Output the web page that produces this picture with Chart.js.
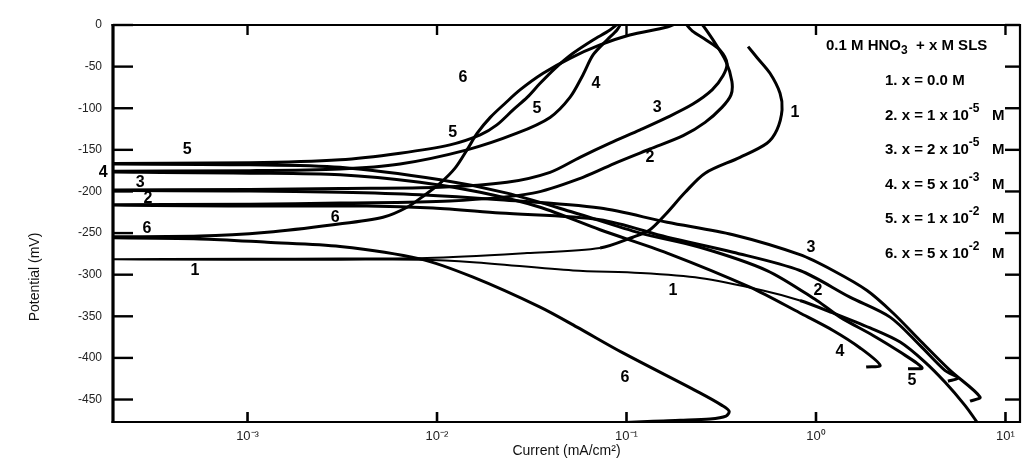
<!DOCTYPE html>
<html>
<head>
<meta charset="utf-8">
<script src="https://cdn.jsdelivr.net/npm/chart.js@4.4.1/dist/chart.umd.min.js"></script>
<style>
  html, body { margin: 0; padding: 0; background: #fff; }
  #wrap { position: relative; width: 1031px; height: 474px; }
</style>
</head>
<body>
<div id="wrap"><canvas id="myChart"></canvas></div>
<script>
// tick values / labels
const xTicks = [1e-3, 1e-2, 1e-1, 1, 10];
const xTickLabels = ['10⁻³', '10⁻²', '10⁻¹', '10⁰', '10¹'];
const yTicks = [0, -50, -100, -150, -200, -250, -300, -350, -400, -450];

// each curve: cathodic end -> Ecorr -> anodic end  (current mA/cm2, potential mV)
const curve1Current = [8.29, 7.07, 6.11, 4.79, 3.76, 2.78, 1.93, 1.23, 0.823, 0.525, 0.244, 0.118, 0.0522, 0.0155, 0.00813, 0.00308, 0.00103, 0.0001, 0.00103, 0.00308, 0.00886, 0.0299, 0.0725, 0.108, 0.133, 0.160, 0.204, 0.260, 0.397, 0.551, 0.622, 0.662, 0.646, 0.572, 0.488, 0.438];
const curve1Potential = [-499, -477, -457, -429, -405, -381, -364, -346, -331, -319, -304, -298, -295, -285, -282, -282, -282, -281.5, -281, -280.5, -280, -274, -268, -255, -246, -228, -201, -178, -159, -142, -126, -102, -82, -58, -39, -26];

const curve2Current = [4.97, 5.61, 4.79, 3.54, 2.46, 1.51, 0.823, 0.365, 0.164, 0.0725, 0.0215, 0.00953, 0.00427, 0.00103, 0.0001, 0.00103, 0.00308, 0.0117, 0.0321, 0.0589, 0.0891, 0.133, 0.199, 0.260, 0.319, 0.356, 0.360, 0.335, 0.290, 0.256, 0.244];
const curve2Potential = [-428, -424, -415, -385, -351, -327, -295, -273, -255, -234, -226, -220, -217.5, -217.5, -216, -215.5, -214, -211.5, -202, -183, -165, -149, -133, -117, -99, -84, -68, -44, -20, -2, 4];

const curve3Current = [6.50, 7.34, 5.10, 3.54, 2.55, 1.86, 1.23, 0.823, 0.365, 0.164, 0.0725, 0.0215, 0.00813, 0.00308, 0.00103, 0.0001, 0.00103, 0.00308, 0.0104, 0.0234, 0.0395, 0.0568, 0.0818, 0.118, 0.164, 0.224, 0.283, 0.323, 0.339, 0.311, 0.263, 0.222, 0.201];
const curve3Potential = [-452, -447, -415, -379, -346, -319, -295, -276, -252, -237, -220, -210, -204, -201, -199.5, -198.5, -197.7, -196.5, -195, -189, -177, -159, -142, -126, -111, -95, -78, -61, -46, -30, -18, -7, 4];

const curve4Current = [1.84, 2.18, 1.71, 1.23, 0.823, 0.448, 0.164, 0.0725, 0.0350, 0.0169, 0.00813, 0.00308, 0.00103, 0.0001, 0.00103, 0.00308, 0.00638, 0.0144, 0.0264, 0.0395, 0.0503, 0.0589, 0.0666, 0.0789, 0.0891, 0.0947];
const curve4Potential = [-411, -409, -388, -367, -346, -315, -274, -246, -219, -201, -189, -180, -178, -176, -175, -173, -167, -150, -130, -111, -87, -60, -36, -18, -6, 4];

const curve5Current = [3.06, 3.63, 2.78, 2.00, 1.34, 1.01, 0.551, 0.244, 0.118, 0.0522, 0.0234, 0.0104, 0.00308, 0.00103, 0.0001, 0.00103, 0.00308, 0.00638, 0.0117, 0.0169, 0.0207, 0.0252, 0.0299, 0.0350, 0.0420, 0.0522, 0.0666, 0.0818, 0.0924];
const curve5Potential = [-413, -412, -393, -373, -351, -331, -295, -267, -250, -225, -202, -186, -171, -168, -166.5, -165.5, -162, -154, -144, -132, -120, -102, -87, -70, -52, -34, -18, -6, 4];

const curve6Current = [0.0924, 0.138, 0.192, 0.276, 0.335, 0.348, 0.319, 0.244, 0.0958, 0.0548, 0.0350, 0.0155, 0.00813, 0.00308, 0.00127, 0.000561, 0.0001, 0.000561, 0.00127, 0.00283, 0.00519, 0.00695, 0.00865, 0.0104, 0.01245, 0.0144, 0.0163, 0.0191, 0.0229, 0.0274, 0.0363, 0.0503, 0.0725, 0.104, 0.164, 0.192];
const curve6Potential = [-478, -476, -475, -473.5, -470, -464, -457, -442, -394, -363, -339, -303, -281, -266, -261, -257, -255, -253.6, -249, -240, -231, -219, -204, -190, -172, -150, -130, -111, -94, -78, -58, -40, -24, -12, -2.4, 4];

// curve number labels
const labelText = ['5', '4', '3', '2', '6', '1', '6', '5', '6', '5', '4', '3', '2', '1', '1', '3', '2', '4', '5', '6'];
const labelCurrent = [4.8e-4, 1.73e-4, 2.71e-4, 2.98e-4, 2.95e-4, 5.28e-4, 2.90e-3, 0.0121, 0.0137, 0.0337, 0.069, 0.145, 0.133, 0.775, 0.176, 0.941, 1.025, 1.339, 3.21, 0.0982];
const labelPotential = [-150, -177, -189, -208, -245, -295, -231, -129, -63, -100, -71, -99, -159, -105, -319, -267, -319, -393, -427, -424];

// legend box
const legendTitle = ['0.1 M HNO', '3', ' + x M SLS'];
const legendCoef = ['0.0', '1', '2', '5', '1', '5'];
const legendExp = [null, '-5', '-5', '-3', '-2', '-2'];

const FAMILY = '"Liberation Sans", Arial, sans-serif';
Chart.defaults.font.family = FAMILY;

const curves = [
  [curve1Current, curve1Potential],
  [curve2Current, curve2Potential],
  [curve3Current, curve3Potential],
  [curve4Current, curve4Potential],
  [curve5Current, curve5Potential],
  [curve6Current, curve6Potential],
];

const datasets = curves.map(([cur, pot], k) => ({
  label: 'x = ' + legendCoef[k],
  data: cur.map((v, i) => ({ x: v, y: pot[i] })),
  borderColor: '#000',
  borderWidth: 3,
  pointRadius: 0,
  tension: 0.3,
  fill: false,
}));
// blank acid: thin middle part
datasets[0].segment = {
  borderWidth: ctx => (ctx.p0DataIndex >= 8 && ctx.p0DataIndex < 22 ? 2 : 3),
};

function drawRuns(ctx, x, y, runs) {
  runs.forEach(r => {
    ctx.font = r.font;
    ctx.fillText(r.text, x, y + (r.dy || 0));
    x += ctx.measureText(r.text).width;
  });
}

const framePlugin = {
  id: 'framePlugin',
  afterDraw(chart) {
    const { ctx, chartArea: a, scales: { x, y } } = chart;
    ctx.save();
    ctx.strokeStyle = '#000';
    const seg = (x1, y1, x2, y2, w) => {
      ctx.lineWidth = w;
      ctx.beginPath();
      ctx.moveTo(x1, y1);
      ctx.lineTo(x2, y2);
      ctx.stroke();
    };
    // inward ticks
    xTicks.forEach(v => {
      const px = x.getPixelForValue(v);
      seg(px, a.bottom, px, a.bottom - 10, 2.6);
      seg(px, a.top, px, a.top + 10, 2.4);
    });
    yTicks.forEach(v => {
      const py = y.getPixelForValue(v);
      seg(a.left, py, a.left + 20, py, 2.4);
      seg(a.right, py, a.right - 15, py, 2.4);
    });
    // frame
    seg(a.left - 1.5, a.top, a.right + 1, a.top, 2);
    seg(a.left - 1.5, a.bottom, a.right + 1, a.bottom, 2);
    seg(a.left, a.top - 1, a.left, a.bottom + 1, 3.2);
    seg(a.right, a.top - 1, a.right, a.bottom + 1, 2.2);

    // curve numbers
    ctx.fillStyle = '#000';
    ctx.textAlign = 'center';
    ctx.textBaseline = 'middle';
    ctx.font = 'bold 16px "Liberation Sans Narrow", ' + FAMILY;
    labelText.forEach((t, i) => {
      ctx.fillText(t, x.getPixelForValue(labelCurrent[i]), y.getPixelForValue(labelPotential[i]));
    });

    // legend text
    ctx.textAlign = 'left';
    ctx.textBaseline = 'alphabetic';
    const main = 'bold 15px ' + FAMILY;
    const small = 'bold 12px ' + FAMILY;
    drawRuns(ctx, a.right - 194, 50, [
      { text: legendTitle[0], font: main },
      { text: legendTitle[1], font: small, dy: 4 },
      { text: ' ' + legendTitle[2], font: main },
    ]);
    legendCoef.forEach((c, i) => {
      const by = 85 + i * 34.6;
      const runs = [{ text: (i + 1) + '. x = ' + c, font: main }];
      if (legendExp[i]) {
        runs.push({ text: ' x 10', font: main });
        runs.push({ text: legendExp[i], font: small, dy: -8 });
        runs.push({ text: '   M', font: main });
      } else {
        runs.push({ text: ' M', font: main });
      }
      drawRuns(ctx, a.right - 135, by, runs);
    });

    // y axis title
    ctx.translate(35, 277);
    ctx.rotate(-Math.PI / 2);
    ctx.textAlign = 'center';
    ctx.textBaseline = 'middle';
    ctx.fillStyle = '#111';
    ctx.font = '14px ' + FAMILY;
    ctx.fillText('Potential (mV)', 0, 0);
    ctx.restore();
  },
};

new Chart(document.getElementById('myChart'), {
  type: 'line',
  data: { datasets: datasets },
  options: {
    responsive: true,
    maintainAspectRatio: false,
    animation: false,
    layout: { padding: { top: 25, right: 11, left: 0, bottom: 0 } },
    plugins: { legend: { display: false }, tooltip: { enabled: false } },
    scales: {
      x: {
        type: 'logarithmic',
        min: 1.95e-4,
        max: 11.93,
        afterBuildTicks: s => { s.ticks = xTicks.map(v => ({ value: v })); },
        afterFit: s => { s.height = 52; },
        grid: { display: false, drawTicks: false },
        border: { display: false },
        ticks: {
          callback: (v, i) => xTickLabels[i],
          color: '#222',
          font: { size: 13 },
          padding: 7,
          maxRotation: 0,
          autoSkip: false,
        },
        title: {
          display: true,
          text: 'Current (mA/cm²)',
          color: '#111',
          font: { size: 14 },
          padding: { top: 0, bottom: 14 },
        },
      },
      y: {
        min: -477,
        max: 0,
        afterBuildTicks: s => { s.ticks = yTicks.map(v => ({ value: v })); },
        afterFit: s => { s.width = 113; },
        grid: { display: false, drawTicks: false },
        border: { display: false },
        ticks: { color: '#222', font: { size: 12 }, padding: 11, autoSkip: false },
      },
    },
  },
  plugins: [framePlugin],
});
</script>
</body>
</html>
